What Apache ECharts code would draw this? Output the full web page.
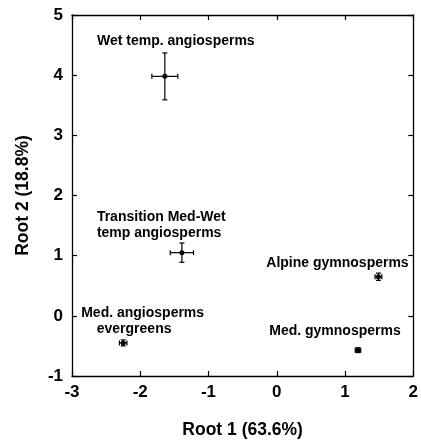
<!DOCTYPE html>
<html>
<head>
<meta charset="utf-8">
<script src="https://cdn.jsdelivr.net/npm/echarts@6/dist/echarts.min.js"></script>
<style>
  html, body { margin: 0; padding: 0; background: #fff; }
  #main { width: 421px; height: 445px; }
</style>
</head>
<body>
<div id="main"></div>
<script>
// group centroids on the two roots, with error bars
var groups = ['Wet temp. angiosperms', 'Transition Med-Wet\ntemp angiosperms', 'Alpine gymnosperms', 'Med. gymnosperms', 'Med. angiosperms\n    evergreens'];
var root1 = [-1.64, -1.39, 1.49, 1.19, -2.25];
var root2 = [3.98, 1.05, 0.65, -0.57, -0.45];
var root1Err = [0.19, 0.17, 0.05, 0.04, 0.055];
var root2Err = [0.39, 0.16, 0.06, 0.04, 0.05];

var xTicks = [-3, -2, -1, 0, 1, 2];
var yTicks = [-1, 0, 1, 2, 3, 4, 5];

var FONT = '"Liberation Sans", Arial, Helvetica, sans-serif';

// top of each name block relative to its point (px)
var labelPlace = [
  { align: 'center', dx: 11, dy: -44 },
  { align: 'left', dx: -85, dy: -44 },
  { align: 'center', dx: -41, dy: -22 },
  { align: 'center', dx: -23, dy: -27 },
  { align: 'left', dx: -42, dy: -38.5 }
];

var chart = echarts.init(document.getElementById('main'));

var errData = groups.map(function (g, i) {
  return [root1[i], root2[i], root1Err[i], root2Err[i], i];
});

function axisCommon(min, max, pos, showLabel) {
  return {
    type: 'value',
    position: pos,
    min: min,
    max: max,
    interval: 1,
    splitLine: { show: false },
    axisLine: { show: true, onZero: false, lineStyle: { color: '#000', width: 1.3 } },
    axisTick: { show: true, inside: true, length: 5, lineStyle: { color: '#000', width: 1.2 } },
    axisLabel: {
      show: showLabel,
      color: '#000',
      fontFamily: FONT,
      fontWeight: 'bold',
      fontSize: 17,
      margin: 8
    }
  };
}

var xMain = axisCommon(xTicks[0], xTicks[xTicks.length - 1], 'bottom', true);
xMain.name = 'Root 1 (63.6%)';
xMain.nameLocation = 'middle';
xMain.nameGap = 45;
xMain.nameTextStyle = { color: '#000', fontFamily: FONT, fontWeight: 'bold', fontSize: 17.5 };

var yMain = axisCommon(yTicks[0], yTicks[yTicks.length - 1], 'left', true);
yMain.axisLabel.margin = 9;
yMain.name = 'Root 2 (18.8%)';
yMain.nameLocation = 'middle';
yMain.nameGap = 40;
yMain.nameTextStyle = { color: '#000', fontFamily: FONT, fontWeight: 'bold', fontSize: 17.5 };

option = {
  backgroundColor: '#fff',
  animation: false,
  grid: { left: 72, right: 5, top: 15, bottom: 69 },
  xAxis: [xMain, axisCommon(xTicks[0], xTicks[xTicks.length - 1], 'top', false)],
  yAxis: [yMain, axisCommon(yTicks[0], yTicks[yTicks.length - 1], 'right', false)],
  series: [
    {
      type: 'custom',
      name: 'groups',
      xAxisIndex: 0,
      yAxisIndex: 0,
      data: errData,
      renderItem: function (params, api) {
        var x = api.value(0), y = api.value(1), ex = api.value(2), ey = api.value(3);
        var i = api.value(4);
        var c = api.coord([x, y]);
        var l = api.coord([x - ex, y]), r = api.coord([x + ex, y]);
        var t = api.coord([x, y + ey]), b = api.coord([x, y - ey]);
        var cap = 2.5;
        var st = { stroke: '#000', lineWidth: 1.2 };
        var seg = function (x1, y1, x2, y2) {
          return { type: 'line', shape: { x1: x1, y1: y1, x2: x2, y2: y2 }, style: st };
        };
        var p = labelPlace[i];
        return {
          type: 'group',
          children: [
            seg(l[0], l[1], r[0], r[1]),
            seg(l[0], l[1] - cap, l[0], l[1] + cap),
            seg(r[0], r[1] - cap, r[0], r[1] + cap),
            seg(t[0], t[1], b[0], b[1]),
            seg(t[0] - cap, t[1], t[0] + cap, t[1]),
            seg(b[0] - cap, b[1], b[0] + cap, b[1]),
            { type: 'circle', shape: { cx: c[0], cy: c[1], r: 2.5 }, style: { fill: '#000' } },
            {
              type: 'text',
              x: c[0] + p.dx,
              y: c[1] + p.dy,
              style: {
                text: groups[i],
                align: p.align,
                verticalAlign: 'top',
                font: 'bold 14px ' + FONT,
                lineHeight: 16.6,
                fill: '#000'
              }
            }
          ]
        };
      }
    }
  ]
};

chart.setOption(option);
</script>
</body>
</html>
